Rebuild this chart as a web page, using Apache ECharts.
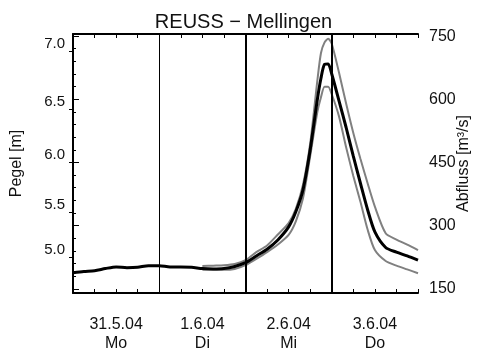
<!DOCTYPE html>
<html>
<head>
<meta charset="utf-8">
<script src="https://cdn.jsdelivr.net/npm/echarts@6/dist/echarts.min.js"></script>
<style>html,body{margin:0;padding:0;background:#fff}#c{width:487px;height:358px}</style>
</head>
<body>
<div id="c"></div>
<script>
// Time in hours since 31.5.04 00:00
var hours = [0,3,6,9,12,15,18,21,24,27,30,33,36,39,42,45,48,51,54,57,60,62,64,66,68,69,70,71,72,74,76,78,80,82,84,87,90,93,96];
// Abfluss [m3/s] – measured / forecast
var flow  = [188,191,193,198,202,200,201,205,205,202,202,201,198,197,198,203,212,228,244,266,297,333,385,480,600,650,683,684,660,597,533,465,400,337,285,248,237,228,218];
// Forecast band
var upper = [null,null,null,null,null,null,null,null,null,null,null,null,204,205,206,209,218,237,253,279,306,340,397,495,645,710,735,744,732,664,590,520,458,400,345,282,267,255,242];
var lower = [null,null,null,null,null,null,null,null,null,null,null,null,195,195,195,197,206,221,237,255,278,310,365,465,570,605,630,630,612,560,486,418,356,290,242,216,205,196,187];
// Day labels
var dayHours = [12,36,60,84];
var dayDates = ['31.5.04','1.6.04','2.6.04','3.6.04'];
var dayNames = ['Mo','Di','Mi','Do'];
// Right axis ticks (Abfluss)
var qLabels = [150,300,450,600,750];
var qMinor = [150,180,210,240,270,300,330,360,390,420,450,480,510,540,570,600,630,660,690,720,750];
// Left axis: Pegel tick labels and their discharge equivalents (rating curve)
var pegelLabels = ['5.0','5.5','6.0','6.5','7.0'];
var pegelQ = [225,332,451,576,714];
// Day separators
var separators = [24,48,72];
var sepWidths = [1,2,2];

function pairs(v){ return hours.map(function(h,i){ return [h, v[i]]; }); }

var FONT = 'Liberation Sans, Arial, sans-serif';
var TXT = '#111';
var chart = echarts.init(document.getElementById('c'), null, {renderer:'canvas'});
var xBase = {
  type:'value', min:0, max:96, interval:6,
  splitLine:{show:false},
  axisLine:{show:true, lineStyle:{color:'#000', width:2}},
  axisTick:{show:true, inside:true, length:4, lineStyle:{color:'#000', width:1}}
};
chart.setOption({
  animation:false,
  backgroundColor:'#fff',
  title:{text:'REUSS \u2212 Mellingen', left:'center', top:7,
    textStyle:{fontFamily:FONT, fontSize:20, fontWeight:'normal', color:TXT}},
  grid:{left:73, right:69, top:34, bottom:65, containLabel:false, outerBoundsMode:'none'},
  xAxis:[
    Object.assign({}, xBase, {position:'bottom',
      axisLabel:{show:true, margin:22, fontFamily:FONT, fontSize:16, lineHeight:19, color:TXT,
        formatter:function(v){ var i = dayHours.indexOf(v); return i<0 ? '' : dayDates[i]+'\n'+dayNames[i]; }}}),
    Object.assign({}, xBase, {position:'top', axisLabel:{show:false}})
  ],
  yAxis:[
    {type:'value', position:'right', min:140, max:755,
      name:'Abfluss [m\u00b3/s]', nameLocation:'middle', nameGap:38, nameMoveOverlap:false,
      nameTextStyle:{fontFamily:FONT, fontSize:16, color:TXT},
      splitLine:{show:false},
      axisLine:{show:true, lineStyle:{color:'#000', width:2}},
      axisTick:{show:true, length:6, customValues:qLabels, lineStyle:{color:'#000'}},
      axisLabel:{show:true, margin:11, customValues:qLabels, fontFamily:FONT, fontSize:16, color:TXT}},
    {type:'value', position:'right', min:140, max:755,
      splitLine:{show:false},
      axisLine:{show:false},
      axisTick:{show:true, length:3, customValues:qMinor, lineStyle:{color:'#000'}},
      axisLabel:{show:false}},
    {type:'value', position:'left', min:140, max:755,
      name:'Pegel [m]', nameLocation:'middle', nameGap:48, nameMoveOverlap:false,
      nameTextStyle:{fontFamily:FONT, fontSize:16, color:TXT},
      splitLine:{show:false},
      axisLine:{show:true, lineStyle:{color:'#000', width:1}},
      axisTick:{show:true, length:4, customValues:pegelQ, lineStyle:{color:'#000'}},
      axisLabel:{show:true, margin:8, customValues:pegelQ, verticalAlign:'bottom',
        fontFamily:FONT, fontSize:15, color:TXT,
        formatter:function(v){ var i = pegelQ.indexOf(v); return i<0 ? '' : pegelLabels[i]; }}}
  ],
  series:[
    {type:'line', name:'upper', data:pairs(upper), showSymbol:false, symbol:'none', smooth:0.25,
      lineStyle:{color:'#808080', width:2}, z:2},
    {type:'line', name:'lower', data:pairs(lower), showSymbol:false, symbol:'none', smooth:0.25,
      lineStyle:{color:'#808080', width:2}, z:2},
    {type:'line', name:'Abfluss', data:pairs(flow), showSymbol:false, symbol:'none', smooth:0.25,
      lineStyle:{color:'#000', width:3}, z:3,
      markLine:{silent:true, symbol:['none','none'], label:{show:false},
        data: separators.map(function(h,i){ return {xAxis:h, lineStyle:{color:'#000', width:sepWidths[i], type:'solid'}}; })}}
  ]
});
</script>
</body>
</html>
